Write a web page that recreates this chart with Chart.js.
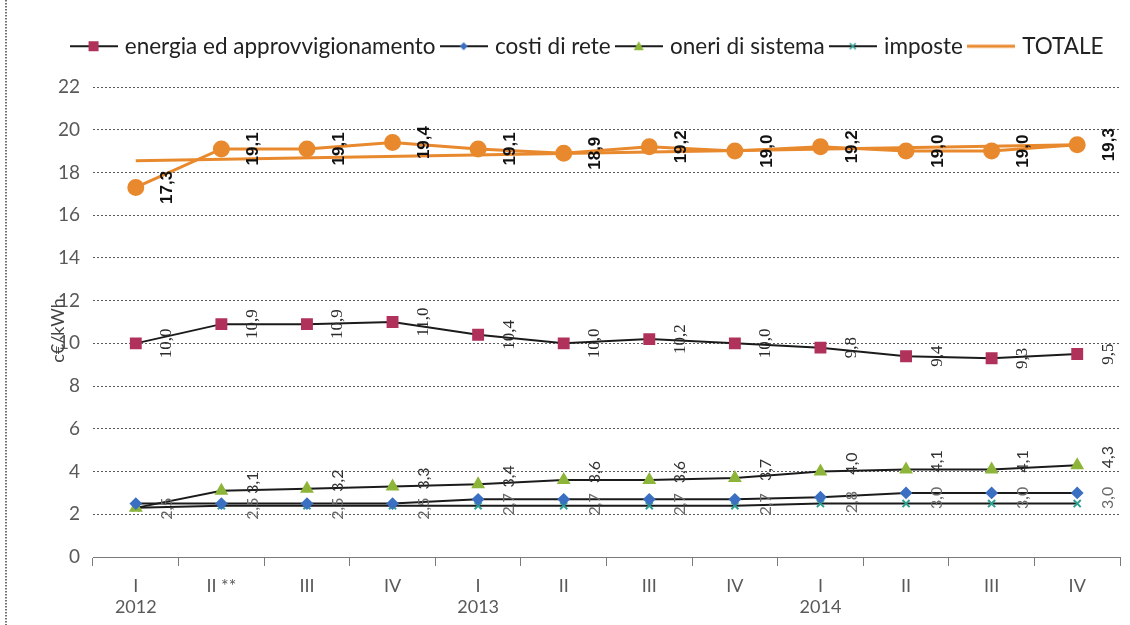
<!DOCTYPE html>
<html>
<head>
<meta charset="utf-8">
<script src="https://cdn.jsdelivr.net/npm/chart.js@4.4.1/dist/chart.umd.min.js"></script>
<style>
  html, body { margin: 0; padding: 0; background: #fff; }
  #wrap { width: 1130px; height: 625px; position: relative; }
</style>
</head>
<body>
<div id="wrap"><canvas id="c" width="1130" height="625"></canvas></div>
<script>
// Quarterly electricity price components, c€/kWh
const quarters = ['I', 'II **', 'III', 'IV', 'I', 'II', 'III', 'IV', 'I', 'II', 'III', 'IV'];
const years    = ['2012', '', '', '', '2013', '', '', '', '2014', '', '', ''];

const energia     = [10.0, 10.9, 10.9, 11.0, 10.4, 10.0, 10.2, 10.0, 9.8, 9.4, 9.3, 9.5];
const costiRete   = [2.5, 2.5, 2.5, 2.5, 2.7, 2.7, 2.7, 2.7, 2.8, 3.0, 3.0, 3.0];
const oneri       = [2.3, 3.1, 3.2, 3.3, 3.4, 3.6, 3.6, 3.7, 4.0, 4.1, 4.1, 4.3];
const imposte     = [2.3, 2.4, 2.4, 2.4, 2.4, 2.4, 2.4, 2.4, 2.5, 2.5, 2.5, 2.5];
const totale      = [17.3, 19.1, 19.1, 19.4, 19.1, 18.9, 19.2, 19.0, 19.2, 19.0, 19.0, 19.3];
// linear trend of TOTALE: end values only
const totaleTrend = [18.55, null, null, null, null, null, null, null, null, null, null, 19.3];

const yMin = 0, yMax = 22, yStep = 2;
const yTitle = 'c€/kWh';

const labels = quarters.map((q, i) => [q, years[i]]);

const C = {
  line: '#1b1b1b',
  energia: '#B0325A',
  costi: '#3B6FC2',
  oneri: '#8DB53A',
  imposte: '#2F9E92',
  totale: '#E8892E',
  grid: '#5a5a5a',
  axis: '#7a7a7a',
  text: '#595959'
};

// small legend symbol: line with a marker in the middle
function legendIcon(lineColor, lineWidth, shape, fill) {
  const w = 48, h = 16;
  const cv = document.createElement('canvas');
  cv.width = w; cv.height = h;
  const g = cv.getContext('2d');
  g.strokeStyle = lineColor; g.lineWidth = lineWidth;
  g.beginPath(); g.moveTo(0, h / 2); g.lineTo(w, h / 2); g.stroke();
  g.fillStyle = fill; g.strokeStyle = fill;
  const cx = w / 2, cy = h / 2;
  g.beginPath();
  if (shape === 'rect') { g.rect(cx - 5, cy - 5, 10, 10); g.fill(); }
  else if (shape === 'diamond') { g.moveTo(cx, cy - 4); g.lineTo(cx + 4, cy); g.lineTo(cx, cy + 4); g.lineTo(cx - 4, cy); g.closePath(); g.fill(); }
  else if (shape === 'triangle') { g.moveTo(cx, cy - 5); g.lineTo(cx + 5, cy + 4); g.lineTo(cx - 5, cy + 4); g.closePath(); g.fill(); }
  else if (shape === 'star') {
    g.lineWidth = 1.5;
    g.moveTo(cx - 3, cy - 3); g.lineTo(cx + 3, cy + 3);
    g.moveTo(cx + 3, cy - 3); g.lineTo(cx - 3, cy + 3);
    g.stroke();
  }
  return cv;
}

const icons = {
  energia: legendIcon(C.line, 2, 'rect', C.energia),
  costi: legendIcon(C.line, 2, 'diamond', C.costi),
  oneri: legendIcon(C.line, 2, 'triangle', C.oneri),
  imposte: legendIcon(C.line, 2, 'star', C.imposte),
  totale: legendIcon(C.totale, 3, 'none', C.totale)
};

// rotated value labels to the right of each point
const valueLabels = {
  id: 'valueLabels',
  afterDatasetsDraw(chart) {
    const ctx = chart.ctx;
    chart.data.datasets.forEach((ds, i) => {
      const st = ds.valueLabel;
      if (!st) return;
      const meta = chart.getDatasetMeta(i);
      meta.data.forEach((pt, j) => {
        const v = ds.data[j];
        if (v == null || (st.skip && st.skip.includes(j))) return;
        ctx.save();
        ctx.translate(pt.x + st.dx, pt.y + st.dy);
        ctx.rotate(-Math.PI / 2);
        ctx.font = st.font;
        ctx.fillStyle = st.color;
        ctx.textAlign = 'center';
        ctx.textBaseline = 'middle';
        ctx.fillText(v.toFixed(1).replace('.', ','), 0, 0);
        ctx.restore();
      });
    });
  }
};

// page frame and the y axis unit, drawn across the tick labels
const frame = {
  id: 'frame',
  beforeDraw(chart) {
    const ctx = chart.ctx;
    ctx.save();
    ctx.fillStyle = '#fff';
    ctx.fillRect(0, 0, chart.width, chart.height);
    ctx.strokeStyle = '#444';
    ctx.lineWidth = 1.5;
    ctx.setLineDash([1.5, 1.5]);
    ctx.beginPath(); ctx.moveTo(6, 0); ctx.lineTo(6, chart.height); ctx.stroke();
    ctx.restore();
  },
  afterDraw(chart) {
    const ctx = chart.ctx;
    const y = chart.scales.y;
    ctx.save();
    ctx.translate(58, y.getPixelForValue(10.6));
    ctx.rotate(-Math.PI / 2);
    ctx.font = '18px Lato';
    ctx.fillStyle = '#444';
    ctx.textAlign = 'center';
    ctx.textBaseline = 'middle';
    ctx.fillText(yTitle, 0, 0);
    ctx.restore();
  }
};

// fixed legend band above the plot
const legendBand = {
  id: 'legendBand',
  beforeInit(chart) {
    const fit = chart.legend.fit;
    chart.legend.fit = function () { fit.call(this); this.height = 60; };
  }
};

const black = { borderColor: C.line, borderWidth: 2, tension: 0 };

new Chart(document.getElementById('c'), {
  type: 'line',
  data: {
    labels: labels,
    datasets: [
      Object.assign({
        label: 'energia ed approvvigionamento', data: energia,
        pointStyle: 'rect', pointRadius: 7, pointBackgroundColor: C.energia, pointBorderColor: C.energia,
        legendIcon: icons.energia,
        valueLabel: { dx: 31, dy: 0, font: '17px "Liberation Serif"', color: '#2a2a2a' }
      }, black),
      Object.assign({
        label: 'costi di rete', data: costiRete,
        pointStyle: 'rectRot', pointRadius: 5, pointBackgroundColor: C.costi, pointBorderColor: C.costi,
        legendIcon: icons.costi,
        valueLabel: { dx: 31, dy: 5, font: '16px Lato', color: '#6a6a6a' }
      }, black),
      Object.assign({
        label: 'oneri di sistema', data: oneri,
        pointStyle: 'triangle', pointRadius: 6, pointBackgroundColor: C.oneri, pointBorderColor: C.oneri,
        legendIcon: icons.oneri,
        valueLabel: { dx: 31, dy: -8, font: '16px Lato', color: '#333', skip: [0] }
      }, black),
      Object.assign({
        label: 'imposte', data: imposte,
        pointStyle: 'crossRot', pointRadius: 5, pointBorderWidth: 2, pointBackgroundColor: C.imposte, pointBorderColor: C.imposte,
        legendIcon: icons.imposte
      }, black),
      {
        label: 'TOTALE', data: totale,
        borderColor: C.totale, borderWidth: 3, tension: 0,
        pointStyle: 'circle', pointRadius: 7, pointBackgroundColor: C.totale, pointBorderColor: C.totale,
        legendIcon: icons.totale,
        valueLabel: { dx: 32, dy: 0, font: 'bold 17px "Liberation Sans"', color: '#111' }
      },
      {
        label: 'trend', data: totaleTrend, spanGaps: true,
        borderColor: C.totale, borderWidth: 3, pointRadius: 0, tension: 0
      }
    ]
  },
  options: {
    responsive: false,
    animation: false,
    layout: { padding: { left: 52, right: 5, top: 27, bottom: 0 } },
    plugins: {
      tooltip: { enabled: false },
      legend: {
        position: 'top',
        labels: {
          usePointStyle: true,
          pointStyleWidth: 40,
          boxHeight: 16,
          padding: 8,
          color: '#222',
          font: { family: 'Lato', size: 22.5 },
          generateLabels(chart) {
            return chart.data.datasets
              .map((ds, i) => ({ ds, i }))
              .filter(o => o.ds.legendIcon)
              .map(o => ({
                text: o.ds.label,
                pointStyle: o.ds.legendIcon,
                fillStyle: 'transparent',
                strokeStyle: 'transparent',
                lineWidth: 0,
                fontColor: '#222',
                datasetIndex: o.i,
                hidden: false
              }));
          }
        }
      }
    },
    scales: {
      x: {
        offset: true,
        grid: { offset: true, drawOnChartArea: false, drawTicks: true, tickLength: 9, color: C.axis },
        border: { color: C.axis, width: 1 },
        ticks: { color: C.text, font: { family: 'Lato', size: 18 }, padding: 9, maxRotation: 0, autoSkip: false },
        afterFit(s) { s.height = 68; }
      },
      y: {
        min: yMin, max: yMax,
        ticks: { stepSize: yStep, color: C.text, font: { family: 'Lato', size: 19 }, padding: 13 },
        grid: { color: C.grid, lineWidth: 1, drawTicks: false },
        border: { display: false, dash: [2, 2] },
        afterFit(s) { s.width = 41; }
      }
    }
  },
  plugins: [frame, legendBand, valueLabels]
});
</script>
</body>
</html>
